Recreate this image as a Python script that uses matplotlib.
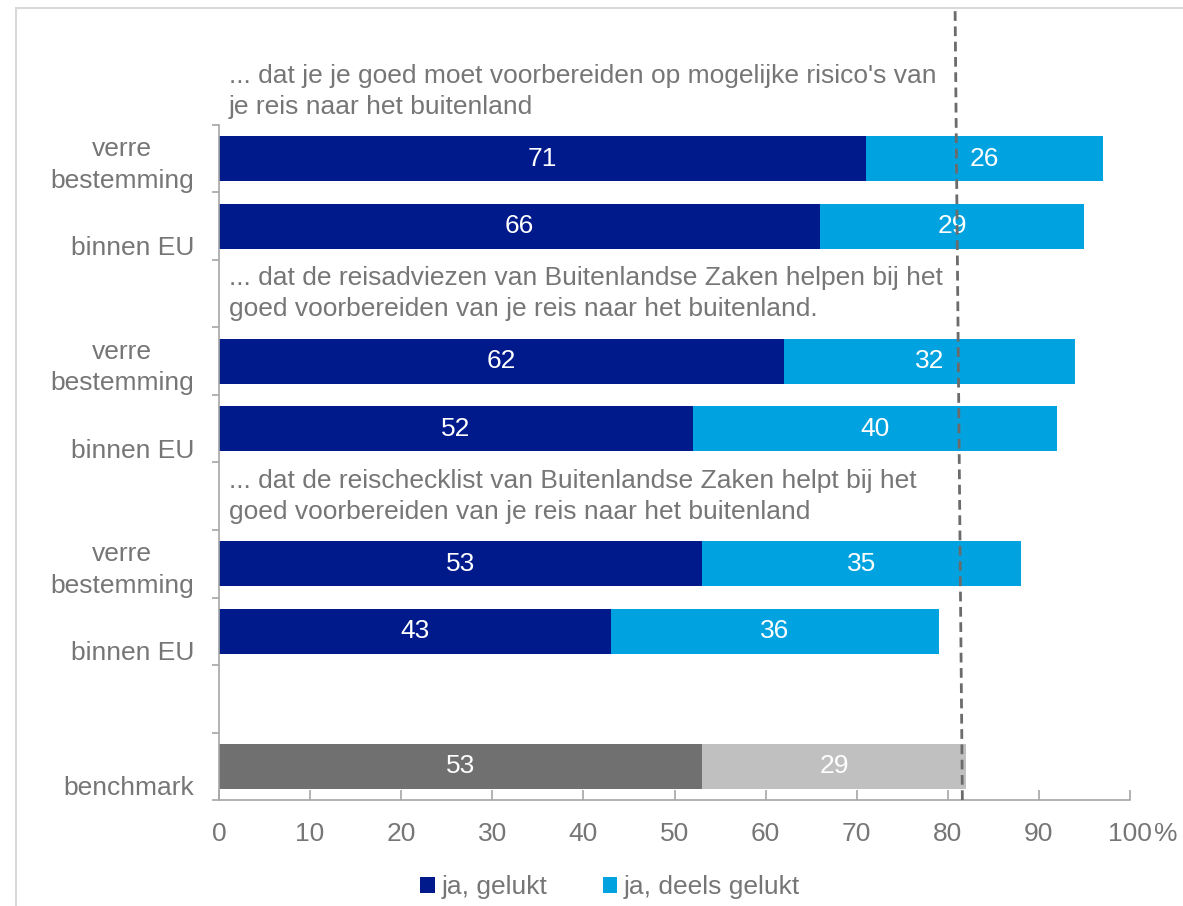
import matplotlib
matplotlib.use("Agg")
import matplotlib.pyplot as plt
from matplotlib.patches import Patch, Rectangle
from matplotlib.ticker import FixedLocator

plt.rcParams['font.family'] = ['Liberation Sans', 'DejaVu Sans']

# --- data -------------------------------------------------------------
questions = [
    "... dat je je goed moet voorbereiden op mogelijke risico's van\nje reis naar het buitenland",
    "... dat de reisadviezen van Buitenlandse Zaken helpen bij het\ngoed voorbereiden van je reis naar het buitenland.",
    "... dat de reischecklist van Buitenlandse Zaken helpt bij het\ngoed voorbereiden van je reis naar het buitenland",
]
groups = ["verre\nbestemming", "\nbinnen EU"]
gelukt = [71, 66, 62, 52, 53, 43]
deels_gelukt = [26, 29, 32, 40, 35, 36]
benchmark_label = "\nbenchmark"
benchmark_gelukt = 53
benchmark_deels = 29
# hand-drawn benchmark marker line: x at the axis bottom and at the frame top
benchmark_line_x = [81.6, 80.8]
series_names = ["ja, gelukt", "ja, deels gelukt"]
x_ticks = [0, 10, 20, 30, 40, 50, 60, 70, 80, 90, 100]

# --- style ------------------------------------------------------------
navy = "#001a8c"
sky = "#00a3df"
grey_dark = "#707070"
grey_light = "#c0c0c0"
text_grey = "#767676"
axis_grey = "#a6a6a6"
fs = 19
ls = 1.39

fig = plt.figure(figsize=(11.83, 9.06), dpi=100)
ax = fig.add_axes([219 / 1183, 1 - 800 / 906, (1130 - 219) / 1183, 675 / 906])

# frame around the chart area
fig.patches.append(Rectangle((16 / 1183, -0.1), 1.2, 1 - 8 / 906 + 0.1,
                             transform=fig.transFigure, fill=False,
                             edgecolor="#d9d9d9", linewidth=1.5))

# slot layout: each question takes a header slot followed by two bar rows
bar_pos, bar_labels = [], []
header_pos = []
for g in range(len(questions)):
    header_pos.append(3 * g - 1)
    for k in range(len(groups)):
        bar_pos.append(3 * g + k)
        bar_labels.append(groups[k])
bench_pos = 3 * len(questions)

h = 0.67
ax.barh(bar_pos, gelukt, height=h, color=navy, label=series_names[0])
ax.barh(bar_pos, deels_gelukt, left=gelukt, height=h, color=sky, label=series_names[1])
ax.barh([bench_pos], [benchmark_gelukt], height=h, color=grey_dark)
ax.barh([bench_pos], [benchmark_deels], left=[benchmark_gelukt], height=h, color=grey_light)

for y, a, b in zip(bar_pos + [bench_pos], gelukt + [benchmark_gelukt],
                   deels_gelukt + [benchmark_deels]):
    ax.text(a / 2, y, str(a), color="white", fontsize=fs, ha="center", va="center")
    ax.text(a + b / 2, y, str(b), color="white", fontsize=fs, ha="center", va="center")

for y, q in zip(header_pos, questions):
    ax.text(1.1, y, q, color=text_grey, fontsize=fs, ha="left", va="center",
            linespacing=ls, clip_on=False)

ax.set_xlim(0, 100)
ax.set_ylim(bench_pos + 0.5, -0.5)

# benchmark reference line, running up to the frame top
top_y = -0.5 - (125 - 8) / 67.5
ax.plot(benchmark_line_x, [bench_pos + 0.5, top_y], color="#6b6b6b",
        linewidth=2.0, dashes=(3.5, 2.0), clip_on=False, zorder=5)

# y axis: labels at slot centres, tick marks between slots
ax.set_yticks(bar_pos + [bench_pos])
ax.set_yticklabels(bar_labels + [benchmark_label], fontsize=fs, color=text_grey,
                   ha="right", multialignment="center", linespacing=ls)
ax.yaxis.set_minor_locator(FixedLocator([i - 0.5 for i in range(bench_pos + 2)]))
ax.tick_params(axis="y", which="major", length=0, pad=18)
ax.tick_params(axis="y", which="minor", length=5, width=1.2, color=axis_grey, direction="out")

ax.set_xticks(x_ticks)
ax.set_xticklabels([str(t) for t in x_ticks], fontsize=fs, color=text_grey)
ax.tick_params(axis="x", length=7, width=1.2, color=axis_grey, direction="in", pad=16)
ax.annotate("%", xy=(100, 0), xycoords=("data", "axes fraction"),
            xytext=(17, -16), textcoords="offset points",
            fontsize=fs, color=text_grey, ha="left", va="top", annotation_clip=False)

for side in ("top", "right"):
    ax.spines[side].set_visible(False)
for side in ("left", "bottom"):
    ax.spines[side].set_color(axis_grey)
    ax.spines[side].set_linewidth(1.2)

handles = [Patch(facecolor=navy), Patch(facecolor=sky)]
fig.legend(handles, series_names, loc="center", bbox_to_anchor=(610 / 1183, 1 - 887 / 906),
           ncol=2, frameon=False, fontsize=fs, labelcolor=text_grey,
           handlelength=0.55, handleheight=0.55, handletextpad=0.25, columnspacing=2.1)

fig.savefig("out.png", dpi=100)
